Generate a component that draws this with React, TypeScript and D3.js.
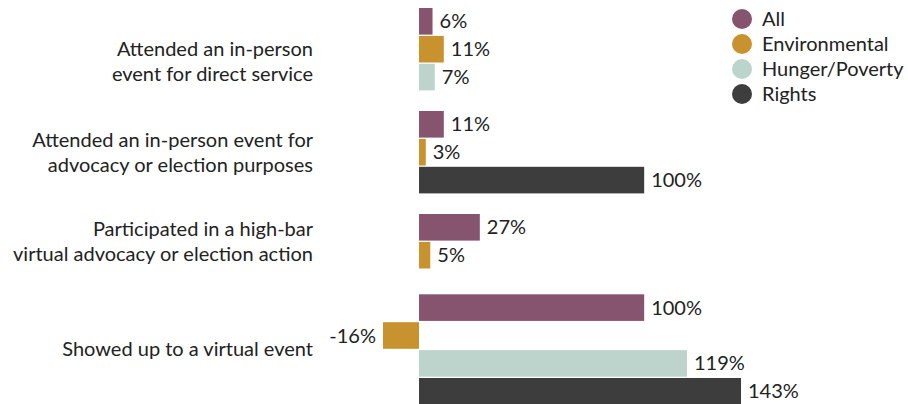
import React from "react";
import * as d3 from "d3";

// ---- data ----
const categories: string[][] = [
  ["Attended an in-person", "event for direct service"],
  ["Attended an in-person event for", "advocacy or election purposes"],
  ["Participated in a high-bar", "virtual advocacy or election action"],
  ["Showed up to a virtual event"],
];
const seriesNames = ["All", "Environmental", "Hunger/Poverty", "Rights"];
const allValues: (number | null)[] = [6, 11, 27, 100];
const environmentalValues: (number | null)[] = [11, 3, 5, -16];
const hungerValues: (number | null)[] = [7, null, null, 119];
const rightsValues: (number | null)[] = [null, 100, null, 143];
const seriesColors = ["#86546e", "#c8922e", "#bcd4cc", "#3d3d3d"];

const W = 908;
const H = 404;
const FONT = "Lato, 'Open Sans', sans-serif";
const TEXT = "#222222";

export default function App() {
  const seriesValues = [allValues, environmentalValues, hungerValues, rightsValues];

  const x = d3.scaleLinear().domain([-16, 143]).range([383, 741]);

  const top = 8;
  const step = 27.9;
  const pad = 1.3 / 27.9;
  const groupGap = 19.3;
  const minGroupH = 61;

  type Bar = { key: string; value: number; color: string; y: number; h: number };
  const groups: { bars: Bar[]; y0: number; y1: number; labels: string[] }[] = [];
  let cursor = top;
  categories.forEach((lines, gi) => {
    const present = seriesNames
      .map((name, si) => ({ name, si, v: seriesValues[si][gi] }))
      .filter((d) => d.v !== null && d.v !== undefined);
    const n = present.length;
    const inner = d3
      .scaleBand<string>()
      .domain(present.map((d) => d.name))
      .range([cursor, cursor + n * step - pad * step])
      .paddingInner(pad)
      .paddingOuter(0);
    const bars: Bar[] = present.map((d) => ({
      key: d.name,
      value: d.v as number,
      color: seriesColors[d.si],
      y: inner(d.name)!,
      h: inner.bandwidth(),
    }));
    const y1 = cursor + n * step - pad * step;
    groups.push({ bars, y0: cursor, y1, labels: lines });
    cursor = cursor + Math.max(n * step, minGroupH) + groupGap;
  });

  const lineH = 25;
  const capHalf = 7;
  const minCapTop = 42;

  return (
    <svg
      width={W}
      height={H}
      style={{ position: "absolute", left: 0, top: 0, display: "block" }}
      fontFamily={FONT}
    >
      <rect x={0} y={0} width={W} height={H} fill="#ffffff" />
      {groups.map((g, gi) => {
        const n = g.labels.length;
        let c = (g.y0 + g.y1) / 2;
        const capTop = c - capHalf - ((n - 1) * lineH) / 2;
        if (capTop < minCapTop) c += minCapTop - capTop;
        return (
          <g key={gi}>
            {g.labels.map((ln, li) => (
              <text
                key={li}
                x={313}
                y={c + capHalf + (li - (n - 1) / 2) * lineH}
                textAnchor="end"
                fontSize={20}
                fill={TEXT}
              >
                {ln}
              </text>
            ))}
            {g.bars.map((b) => {
              const x0 = x(Math.min(0, b.value));
              const x1 = x(Math.max(0, b.value));
              const neg = b.value < 0;
              return (
                <g key={b.key}>
                  <rect x={x0} y={b.y} width={x1 - x0} height={b.h} fill={b.color} />
                  <text
                    x={neg ? x0 - 7 : x1 + 7}
                    y={b.y + b.h / 2 + capHalf}
                    textAnchor={neg ? "end" : "start"}
                    fontSize={20}
                    fill={TEXT}
                  >
                    {`${b.value}%`}
                  </text>
                </g>
              );
            })}
          </g>
        );
      })}
      <g>
        {seriesNames.map((name, i) => (
          <g key={name} transform={`translate(742, ${19 + i * 25})`}>
            <circle r={10} fill={seriesColors[i]} />
            <text x={20} y={capHalf} fontSize={20} fill={TEXT}>
              {name}
            </text>
          </g>
        ))}
      </g>
    </svg>
  );
}
